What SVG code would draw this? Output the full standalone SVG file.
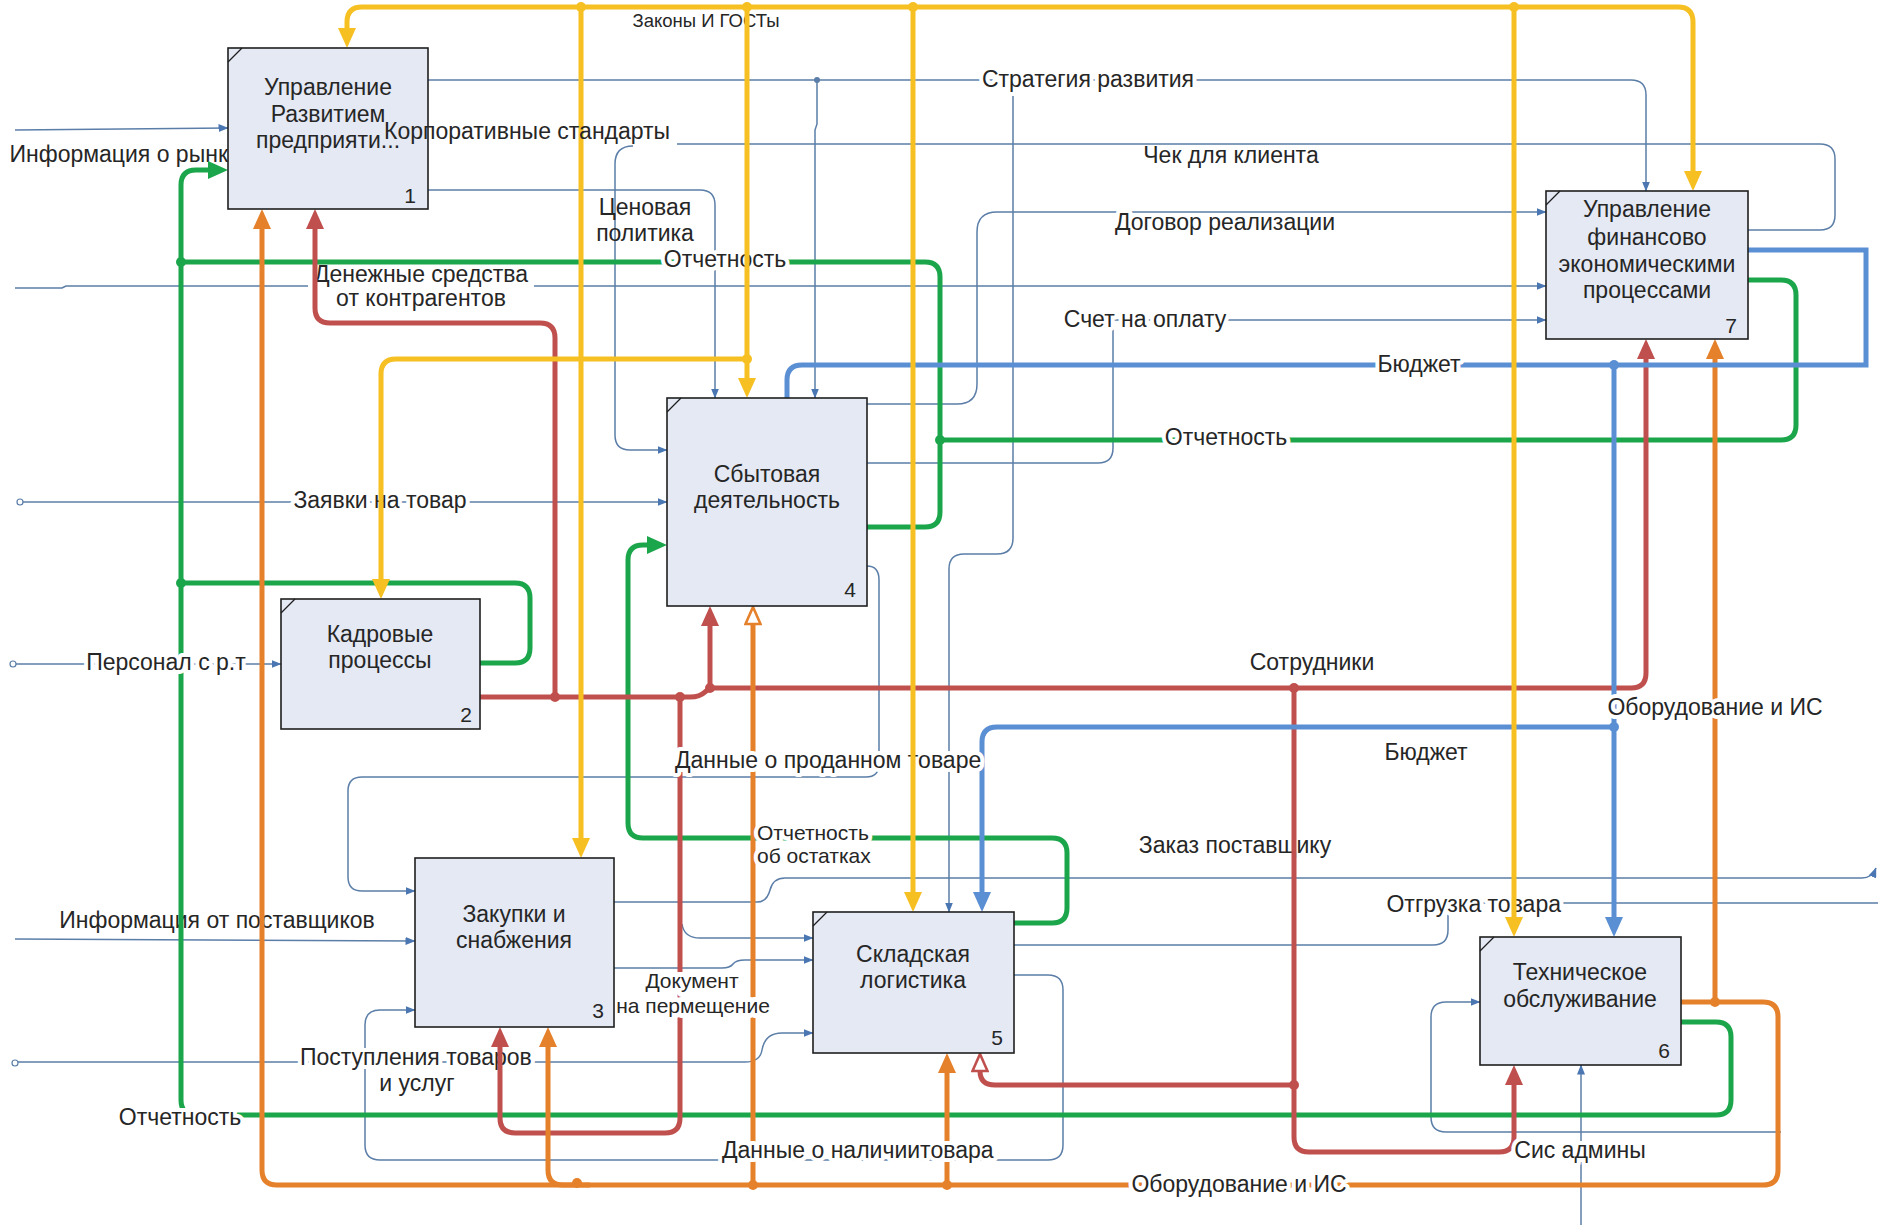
<svg xmlns="http://www.w3.org/2000/svg" width="1878" height="1225" viewBox="0 0 1878 1225">
<style>
.thin{fill:none;stroke:#5b7ea8;stroke-width:1.5}
.thk{fill:none;stroke-width:5;stroke-linejoin:round}
.y{stroke:#f6c023}.g{stroke:#1ca64c}.r{stroke:#c0504d}.o{stroke:#e5802b}.b{stroke:#5b8fd4}
.lbl{font-family:"Liberation Sans",Arial,sans-serif;font-size:23px;fill:#262626}
.sm{font-size:21px}
.mid{text-anchor:middle}
.end{text-anchor:end}
.h{stroke:#fff;stroke-width:8;stroke-linejoin:round;paint-order:stroke}
.box{fill:#e4e9f4;stroke:#1e1e1e;stroke-width:1.6}
.tick{stroke:#1e1e1e;stroke-width:1.2}
.bt{font-family:"Liberation Sans",Arial,sans-serif;font-size:23px;fill:#262626;text-anchor:middle}
.num{font-family:"Liberation Sans",Arial,sans-serif;font-size:21px;fill:#262626;text-anchor:end}
</style>
<defs>
<marker id="at" viewBox="0 0 10 8" markerWidth="10" markerHeight="8" refX="9.5" refY="4" orient="auto" markerUnits="userSpaceOnUse"><path d="M0,0L10,4L0,8z" fill="#4a76b2"/></marker>
<marker id="ay" viewBox="0 0 20 18" markerWidth="20" markerHeight="18" refX="10" refY="9" orient="auto" markerUnits="userSpaceOnUse"><path d="M0,0L20,9L0,18z" fill="#f6c023"/></marker>
<marker id="ag" viewBox="0 0 20 18" markerWidth="20" markerHeight="18" refX="10" refY="9" orient="auto" markerUnits="userSpaceOnUse"><path d="M0,0L20,9L0,18z" fill="#1ca64c"/></marker>
<marker id="ar" viewBox="0 0 20 18" markerWidth="20" markerHeight="18" refX="10" refY="9" orient="auto" markerUnits="userSpaceOnUse"><path d="M0,0L20,9L0,18z" fill="#c0504d"/></marker>
<marker id="ao" viewBox="0 0 20 18" markerWidth="20" markerHeight="18" refX="10" refY="9" orient="auto" markerUnits="userSpaceOnUse"><path d="M0,0L20,9L0,18z" fill="#e5802b"/></marker>
<marker id="ab" viewBox="0 0 20 18" markerWidth="20" markerHeight="18" refX="10" refY="9" orient="auto" markerUnits="userSpaceOnUse"><path d="M0,0L20,9L0,18z" fill="#5b8fd4"/></marker>
<marker id="ho" viewBox="0 0 20 18" markerWidth="20" markerHeight="18" refX="1.5" refY="9" orient="auto" markerUnits="userSpaceOnUse"><path d="M1.5,1.5L18.5,9L1.5,16.5z" fill="#fff" stroke="#e5802b" stroke-width="2.6"/></marker>
<marker id="hr" viewBox="0 0 20 18" markerWidth="20" markerHeight="18" refX="1.5" refY="9" orient="auto" markerUnits="userSpaceOnUse"><path d="M1.5,1.5L18.5,9L1.5,16.5z" fill="#fff" stroke="#c0504d" stroke-width="2.6"/></marker>
</defs>
<rect width="1878" height="1225" fill="#fff"/>
<g id="connectors">
 <g id="thin-lines">
  <path class="thin" d="M15,130 L228,128" marker-end="url(#at)"/>
  <path class="thin" d="M428,80 H1631 Q1646,80 1646,95 V191" marker-end="url(#at)"/>
  <path class="thin" d="M817,80 V124 L815,130 V398" marker-end="url(#at)"/>
  <circle cx="817" cy="80" r="3" fill="#5b7ea8"/>
  <path class="thin" d="M1013,90 V538 Q1013,554 997,554 H964 Q949,554 949,569 V912" marker-end="url(#at)"/>
  <path class="thin" d="M428,190 H700 Q715,190 715,205 V398" marker-end="url(#at)"/>
  <path class="thin" d="M1748,230 H1820 Q1835,230 1835,215 V159 Q1835,144 1820,144 H677 M633,146 Q615,146 615,164 V435 Q615,450 630,450 H667" marker-end="url(#at)"/>
  <path class="thin" d="M867,404 H957 Q977,404 977,384 V232 Q977,212 997,212 H1546" marker-end="url(#at)"/>
  <path class="thin" d="M15,288 H62 L66,286 H1546" marker-end="url(#at)"/>
  <path class="thin" d="M867,463 H1098 Q1113,463 1113,448 V320 H1546" marker-end="url(#at)"/>
  <circle cx="20" cy="502" r="3" fill="#fff" stroke="#5b7ea8" stroke-width="1.2"/>
  <path class="thin" d="M23,502 H667" marker-end="url(#at)"/>
  <circle cx="13" cy="664" r="3" fill="#fff" stroke="#5b7ea8" stroke-width="1.2"/>
  <path class="thin" d="M16,664 H281" marker-end="url(#at)"/>
  <path class="thin" d="M15,939 L415,941" marker-end="url(#at)"/>
  <path class="thin" d="M867,566 Q879,566 879,580 V764 Q879,777 866,777 H362 Q348,777 348,791 V877 Q348,891 362,891 H415" marker-end="url(#at)"/>
  <circle cx="15" cy="1063" r="3" fill="#fff" stroke="#5b7ea8" stroke-width="1.2"/>
  <path class="thin" d="M18,1062 H745 Q760,1062 762,1050 Q765,1033 782,1033 H813" marker-end="url(#at)"/>
  <path class="thin" d="M1014,975 H1048 Q1063,975 1063,990 V1145 Q1063,1160 1048,1160 H380 Q365,1160 365,1145 V1025 Q365,1010 380,1010 H415" marker-end="url(#at)"/>
  <path class="thin" d="M614,902 H757 Q767,902 770,890 Q773,878 785,878 H1862 Q1872,878 1876,868" marker-end="url(#at)"/>
  <path class="thin" d="M614,968 H722 Q730,968 733,964 Q736,960 745,960 H813" marker-end="url(#at)"/>
  <path class="thin" d="M682,924 Q684,938 700,938 H813" marker-end="url(#at)"/>
  <path class="thin" d="M1014,945 H1433 Q1448,945 1448,930 V903 H1878"/>
  <path class="thin" d="M1781,1132 H1446 Q1431,1132 1431,1117 V1017 Q1431,1002 1446,1002 H1480" marker-end="url(#at)"/>
  <path class="thin" d="M1581,1225 V1065" marker-end="url(#at)"/>
 </g>
 <g id="labels-under">
  <text class="lbl mid" x="706" y="27" style="font-size:18.5px">Законы И ГОСТы</text>
  <text class="lbl mid h" x="1088" y="87">Стратегия развития</text>
  <text class="lbl end" x="241" y="162">Информация о рынке</text>
  <text class="lbl mid" x="645" y="215">Ценовая</text>
  <text class="lbl mid" x="645" y="241">политика</text>
  <rect x="308" y="283" width="226" height="7" fill="#fff"/>
  <text class="lbl mid h" x="421" y="282">Денежные средства</text>
  <text class="lbl mid h" x="421" y="306">от контрагентов</text>
  <text class="lbl mid" x="1231" y="163">Чек для клиента</text>
  <text class="lbl mid h" x="1225" y="230">Договор реализации</text>
  <text class="lbl mid h" x="1145" y="327">Счет на оплату</text>
  <text class="lbl mid h" x="380" y="508">Заявки на товар</text>
  <text class="lbl mid" x="1312" y="670">Сотрудники</text>
  <text class="lbl mid" x="1426" y="760">Бюджет</text>
  <text class="lbl mid" x="1235" y="853">Заказ поставщику</text>
  <text class="lbl mid" x="217" y="928">Информация от поставщиков</text>
  <text class="lbl end h" x="1561" y="912">Отгрузка товара</text>
  <text class="lbl h" x="300" y="1065">Поступления товаров</text>
  <text class="lbl mid h" x="417" y="1091">и услуг</text>
 </g>
 <g id="thick-lines">
  <path class="thk g" d="M480,663 H515 Q530,663 530,648 V598 Q530,583 515,583 H181"/>
  <path class="thk g" d="M867,527 H925 Q940,527 940,512 V277 Q940,262 925,262 H181"/>
  <path class="thk g" d="M1748,280 H1781 Q1796,280 1796,295 V425 Q1796,440 1781,440 H940"/>
  <path class="thk g" d="M1681,1022 H1716 Q1731,1022 1731,1037 V1100 Q1731,1115 1716,1115 H196 Q181,1115 181,1100 V185 Q181,170 196,170 H218" marker-end="url(#ag)"/>
  <path class="thk g" d="M1014,923 H1052 Q1067,923 1067,908 V853 Q1067,838 1052,838 H643 Q628,838 628,823 V560 Q628,545 643,545 H657" marker-end="url(#ag)"/>
  <g fill="#1ca64c"><circle cx="181" cy="262" r="5"/><circle cx="181" cy="583" r="5"/><circle cx="940" cy="440" r="5"/></g>
  <path class="thk r" d="M480,697 H690 Q700,697 705,692 L710,688 H1631 Q1646,688 1646,673 V349" marker-end="url(#ar)"/>
  <path class="thk r" d="M555,697 V338 Q555,323 540,323 H330 Q315,323 315,308 V219" marker-end="url(#ar)"/>
  <path class="thk r" d="M680,697 V1118 Q680,1133 665,1133 H515 Q500,1133 500,1118 V1037" marker-end="url(#ar)"/>
  <path class="thk r" d="M710,688 V616" marker-end="url(#ar)"/>
  <path class="thk r" d="M1294,688 V1137 Q1294,1152 1309,1152 H1499 Q1514,1152 1514,1137 V1075" marker-end="url(#ar)"/>
  <path class="thk r" d="M1294,1085 H995 Q980,1085 980,1071" marker-end="url(#hr)"/>
  <g fill="#c0504d"><circle cx="555" cy="697" r="5"/><circle cx="680" cy="697" r="5"/><circle cx="710" cy="688" r="5"/><circle cx="1294" cy="688" r="5"/><circle cx="1294" cy="1085" r="5"/></g>
  <path class="thk o" d="M1681,1002 H1763 Q1778,1002 1778,1017 V1170 Q1778,1185 1763,1185 H277 Q262,1185 262,1170 V219" marker-end="url(#ao)"/>
  <path class="thk o" d="M1715,1002 V349" marker-end="url(#ao)"/>
  <path class="thk o" d="M753,1185 V624" marker-end="url(#ho)"/>
  <path class="thk o" d="M947,1185 V1063" marker-end="url(#ao)"/>
  <path class="thk o" d="M590,1185 H563 Q548,1185 548,1170 V1037" marker-end="url(#ao)"/>
  <g fill="#e5802b"><circle cx="1715" cy="1002" r="5"/><circle cx="753" cy="1185" r="5"/><circle cx="947" cy="1185" r="5"/><circle cx="577" cy="1183" r="5"/></g>
  <path class="thk b" style="stroke-linejoin:miter" d="M1748,250 H1866 V365 H802 Q787,365 787,380 V398"/>
  <path class="thk b" d="M1614,365 V927" marker-end="url(#ab)"/>
  <path class="thk b" d="M1614,727 H997 Q982,727 982,742 V902" marker-end="url(#ab)"/>
  <g fill="#5b8fd4"><circle cx="1614" cy="365" r="5"/><circle cx="1614" cy="727" r="5"/></g>
 </g>
 <g id="labels-over">
  <text class="lbl mid h" x="725" y="267">Отчетность</text>
  <text class="lbl mid h" x="1419" y="372">Бюджет</text>
  <text class="lbl mid h" x="1226" y="445">Отчетность</text>
  <text class="lbl mid h" x="166" y="670">Персонал с р.т</text>
  <text class="lbl mid h" x="1715" y="715">Оборудование и ИС</text>
  <text class="lbl h" x="675" y="768">Данные о проданном товаре</text>
  <text class="lbl sm h" x="757" y="840">Отчетность</text>
  <text class="lbl sm h" x="757" y="863">об остатках</text>
  <text class="lbl sm mid h" x="692" y="988" style="stroke-width:10">Документ</text>
  <text class="lbl sm mid h" x="693" y="1013" style="stroke-width:10">на пермещение</text>
  <text class="lbl mid h" x="180" y="1125">Отчетность</text>
  <text class="lbl h" x="722" y="1158">Данные о наличиитовара</text>
  <text class="lbl mid h" x="1580" y="1158">Сис админы</text>
  <text class="lbl mid h" x="1239" y="1192">Оборудование и ИС</text>
 </g>
 <g id="yellow-lines">
  <path class="thk y" d="M900,7 H362 Q347,7 347,22 V38" marker-end="url(#ay)"/>
  <path class="thk y" d="M900,7 H1678 Q1693,7 1693,22 V181" marker-end="url(#ay)"/>
  <path class="thk y" d="M581,7 V848" marker-end="url(#ay)"/>
  <path class="thk y" d="M747,7 V388" marker-end="url(#ay)"/>
  <path class="thk y" d="M747,359 H396 Q381,359 381,374 V589" marker-end="url(#ay)"/>
  <path class="thk y" d="M913,7 V902" marker-end="url(#ay)"/>
  <path class="thk y" d="M1514,7 V927" marker-end="url(#ay)"/>
  <g fill="#f6c023"><circle cx="581" cy="7" r="5"/><circle cx="747" cy="7" r="5"/><circle cx="913" cy="7" r="5"/><circle cx="1514" cy="7" r="5"/><circle cx="747" cy="359" r="5"/></g>
 </g>
</g>
<g id="node1">
 <rect class="box" x="228" y="48" width="200" height="161"/>
 <path class="tick" d="M228,62 L242,48"/>
 <text class="bt" x="328" y="95">Управление</text>
 <text class="bt" x="328" y="122">Развитием</text>
 <text class="bt" x="328" y="148">предприяти...</text>
 <text class="num" x="416" y="203">1</text>
</g>
<g id="node2">
 <rect class="box" x="281" y="599" width="199" height="130"/>
 <path class="tick" d="M281,613 L295,599"/>
 <text class="bt" x="380" y="642">Кадровые</text>
 <text class="bt" x="380" y="668">процессы</text>
 <text class="num" x="472" y="722">2</text>
</g>
<g id="node3">
 <rect class="box" x="415" y="858" width="199" height="169"/>
 <text class="bt" x="514" y="922">Закупки и</text>
 <text class="bt" x="514" y="948">снабжения</text>
 <text class="num" x="604" y="1018">3</text>
</g>
<g id="node4">
 <rect class="box" x="667" y="398" width="200" height="208"/>
 <path class="tick" d="M667,412 L681,398"/>
 <text class="bt" x="767" y="482">Сбытовая</text>
 <text class="bt" x="767" y="508">деятельность</text>
 <text class="num" x="856" y="597">4</text>
</g>
<g id="node5">
 <rect class="box" x="813" y="912" width="201" height="141"/>
 <path class="tick" d="M813,926 L827,912"/>
 <text class="bt" x="913" y="962">Складская</text>
 <text class="bt" x="913" y="988">логистика</text>
 <text class="num" x="1003" y="1045">5</text>
</g>
<g id="node6">
 <rect class="box" x="1480" y="937" width="201" height="128"/>
 <path class="tick" d="M1480,951 L1494,937"/>
 <text class="bt" x="1580" y="980">Техническое</text>
 <text class="bt" x="1580" y="1007">обслуживание</text>
 <text class="num" x="1670" y="1058">6</text>
</g>
<g id="node7">
 <rect class="box" x="1546" y="191" width="202" height="148"/>
 <path class="tick" d="M1546,205 L1560,191"/>
 <text class="bt" x="1647" y="217">Управление</text>
 <text class="bt" x="1647" y="245">финансово</text>
 <text class="bt" x="1647" y="272">экономическими</text>
 <text class="bt" x="1647" y="298">процессами</text>
 <text class="num" x="1737" y="333">7</text>
</g>
<g id="connector-labels-top">
 <text class="lbl" x="384" y="139">Корпоративные стандарты</text>
</g>
</svg>
